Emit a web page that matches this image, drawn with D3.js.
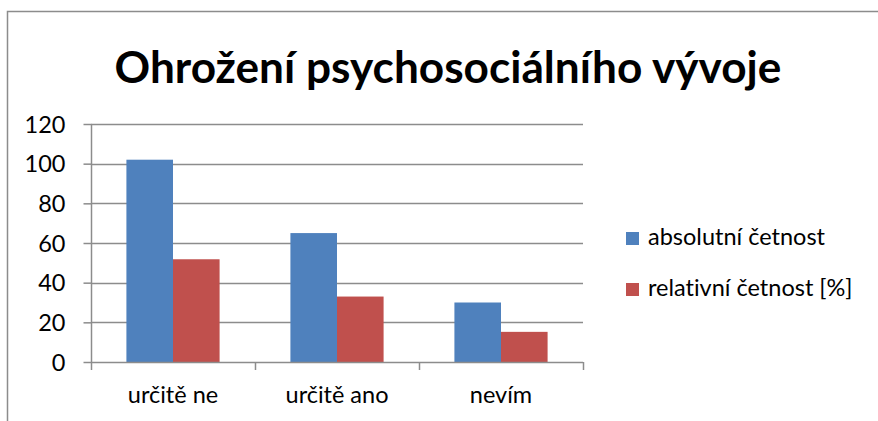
<!DOCTYPE html>
<html><head><meta charset="utf-8">
<script src="https://cdn.jsdelivr.net/npm/d3@7"></script>
<style>body{margin:0;background:#fff}svg{display:block}text{font-variant-ligatures:none}</style>
</head><body>
<svg id="chart" width="878" height="421"></svg>
<script>
const title = "Ohrožení psychosociálního vývoje";
const categories = ["určitě ne", "určitě ano", "nevím"];
const seriesNames = ["absolutní četnost", "relativní četnost [%]"];
const absolutni = [102, 65, 30];
const relativni = [51.8, 33.0, 15.2];
const yTicks = [0, 20, 40, 60, 80, 100, 120];
const colors = ["#4F81BD", "#C0504D"];

const svg = d3.select("#chart");
const font = "Lato, 'Open Sans', sans-serif";
const fs = 23.5;

// frame
svg.append("path").attr("d", "M7.5,421 V11.5 H878").attr("fill", "none").attr("stroke", "#8c8c8c").attr("stroke-width", 1.5);

const m = {left: 91, right: 583, top: 124, bottom: 362};
const x = d3.scaleBand().domain(categories).range([m.left, m.right]).paddingInner(0).paddingOuter(0);
const y = d3.scaleLinear().domain([0, 120]).range([m.bottom, m.top]);
const inner = d3.scaleBand().domain([0, 1]).range([0, x.bandwidth()]).paddingInner(0).paddingOuter(0.76);

// gridlines
svg.append("g").selectAll("line").data(yTicks.filter(d => d > 0)).join("line")
  .attr("x1", m.left).attr("x2", m.right)
  .attr("y1", d => Math.round(y(d)) + 0.5).attr("y2", d => Math.round(y(d)) + 0.5)
  .attr("stroke", "#8c8c8c").attr("stroke-width", 1.5);

// y axis
const yAxis = svg.append("g").attr("transform", `translate(${m.left + 0.5},0)`)
  .call(d3.axisLeft(y).tickValues(yTicks).tickSize(8).tickPadding(18).tickFormat(d3.format("d")));
yAxis.select(".domain").attr("stroke", "#8c8c8c").attr("stroke-width", 1.5).attr("d", `M0,${m.bottom} V${m.top}`);
yAxis.selectAll(".tick line").attr("stroke", "#8c8c8c").attr("stroke-width", 1.5);
yAxis.selectAll("text").attr("font-family", font).attr("font-size", fs).attr("fill", "#000").attr("dy", "0.35em");

// bars
const groups = svg.append("g").selectAll("g").data(categories).join("g")
  .attr("transform", d => `translate(${x(d)},0)`);
groups.selectAll("rect").data((d, i) => [absolutni[i], relativni[i]].map((v, k) => ({v, k}))).join("rect")
  .attr("x", d => inner(d.k)).attr("width", inner.bandwidth())
  .attr("y", d => y(d.v)).attr("height", d => y(0) - y(d.v))
  .attr("fill", d => colors[d.k]);

// x axis
const xAxis = svg.append("g").attr("transform", `translate(0,${m.bottom + 0.5})`)
  .call(d3.axisBottom(x).tickSize(0).tickPadding(24));
xAxis.select(".domain").attr("stroke", "#8c8c8c").attr("stroke-width", 1.5).attr("d", `M${m.left},0 H${m.right}`);
xAxis.selectAll("text").attr("font-family", font).attr("font-size", fs).attr("fill", "#000");
// category boundary ticks
const bounds = categories.map(c => x(c)).concat([m.right]);
svg.append("g").selectAll("line").data(bounds).join("line")
  .attr("x1", d => Math.round(d) + 0.5).attr("x2", d => Math.round(d) + 0.5)
  .attr("y1", m.bottom).attr("y2", m.bottom + 8)
  .attr("stroke", "#8c8c8c").attr("stroke-width", 1.5);

// title
const t = svg.append("text").attr("x", 448).attr("y", 83).attr("text-anchor", "middle")
  .attr("font-family", font).attr("font-weight", "bold").attr("font-size", 40).attr("fill", "#000").text(title);
const w = t.node().getComputedTextLength();
t.attr("font-size", 40 * 667 / w);

// legend
const lg = svg.append("g").selectAll("g").data(seriesNames).join("g")
  .attr("transform", (d, i) => `translate(626,${232 + i * 51})`);
lg.append("rect").attr("width", 13).attr("height", 13).attr("fill", (d, i) => colors[i]);
lg.append("text").attr("x", 22).attr("y", 13).attr("font-family", font).attr("font-size", fs).attr("fill", "#000").text(d => d);
</script>
</body></html>
